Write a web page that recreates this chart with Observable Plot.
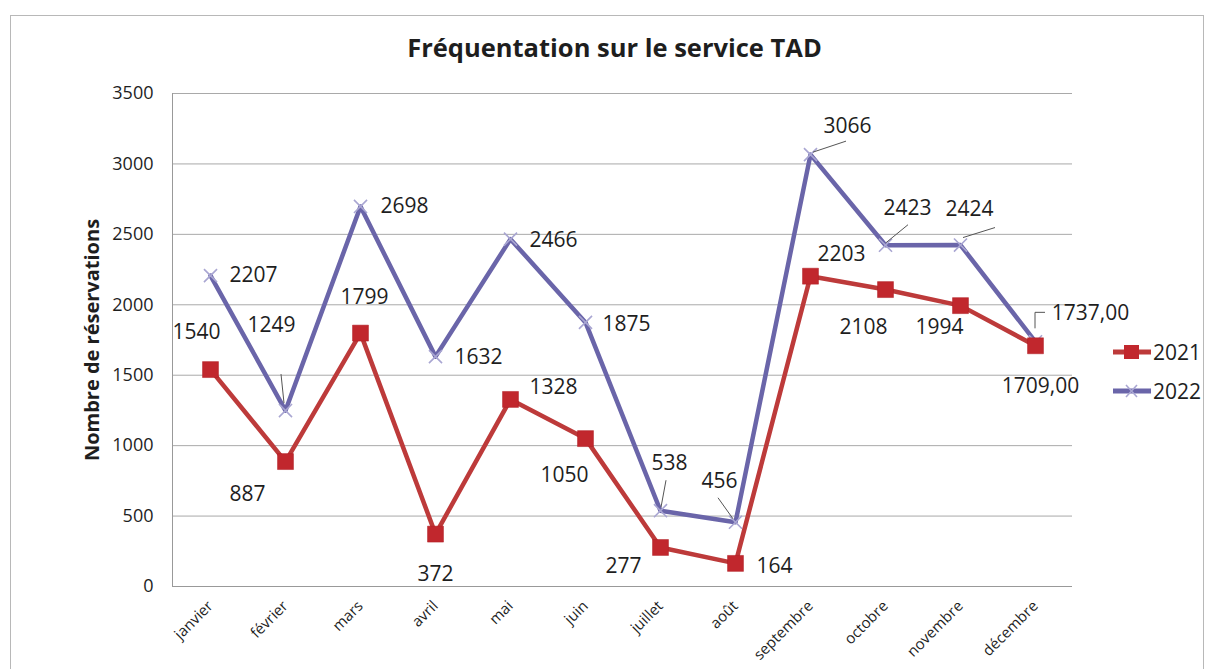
<!DOCTYPE html>
<html><head><meta charset="utf-8">
<script src="https://cdn.jsdelivr.net/npm/d3@7"></script>
<script src="https://cdn.jsdelivr.net/npm/@observablehq/plot@0.6"></script>
<style>
body{margin:0;background:#fff;font-family:"Open Sans",sans-serif;}
#wrap{position:relative;width:1205px;height:669px;overflow:hidden;background:#fff;}
#frame{position:absolute;left:10px;top:15px;width:1192px;height:700px;border:1px solid #b8b8b8;}
#title{position:absolute;left:12px;top:30px;width:1205px;text-align:center;font-weight:700;font-size:25.5px;color:#1e1e1e;}
#chart{position:absolute;left:0;top:75px;}
.leg{position:absolute;left:1112px;height:30px;display:flex;align-items:center;font-size:21px;color:#1e1e1e;}
</style></head>
<body>
<div id="wrap">
  <div id="frame"></div>
  <div id="title">Fréquentation sur le service TAD</div>
  <div id="chart"></div>
  <div id="legend"></div>
</div>
<script>
const months = ["janvier","février","mars","avril","mai","juin","juillet","août","septembre","octobre","novembre","décembre"];
const values2021 = [1540, 887, 1799, 372, 1328, 1050, 277, 164, 2203, 2108, 1994, 1709];
const values2022 = [2207, 1249, 2698, 1632, 2466, 1875, 538, 456, 3066, 2423, 2424, 1737];
const seriesNames = ["2021", "2022"];
const yTicks = [0, 500, 1000, 1500, 2000, 2500, 3000, 3500];
const yTitle = "Nombre de réservations";

// label text: december shown with two decimals (French format)
const fmtLabel = (v, i) => i === 11 ? v.toFixed(2).replace(".", ",") : String(v);

// label placement offsets (layout only)
const off2021 = [[-14,-37],[-38,33],[4,-36],[0,40],[43,-12],[-21,37],[-37,19],[39,3],[31,-22],[-22,38],[-21,22],[5,40]];
const off2022 = [[43,0],[-14,-85],[44,0],[43,1],[43,1],[41,2],[9,-47],[-16,-41],[37,-28],[22,-37],[9,-36],[55,-29]];
// leader lines for 2022 labels (pixel offsets from the point)
const leaders2022 = [
  {i:1, pts:[[-4,-36],[-1,-7]]},
  {i:6, pts:[[6,-30],[1,-3]]},
  {i:7, pts:[[-17,-24],[-2,-3]]},
  {i:8, pts:[[3,-2],[36,-13]]},
  {i:9, pts:[[1,-2],[23,-20]]},
  {i:10, pts:[[3,-7],[35,-17]]},
  {i:11, pts:[[0,-13],[0,-29],[10,-29]]}
];

const rows2021 = months.map((m, i) => ({month: m, value: values2021[i], series: seriesNames[0]}));
const rows2022 = months.map((m, i) => ({month: m, value: values2022[i], series: seriesNames[1]}));

const red = "#c1272d", redLine = "#bd3a3a", purple = "#6a65a9", purpleMark = "#a9a6d2";

function labelMarks(rows, offs) {
  return rows.map((r, i) => Plot.text([r], {
    x: "month", y: "value", text: d => fmtLabel(d.value, i),
    dx: offs[i][0], dy: offs[i][1], fontSize: 21, fill: "#1e1e1e", fontFamily: "Open Sans"
  }));
}

function leaderMark(index, scales) {
  const g = document.createElementNS("http://www.w3.org/2000/svg", "g");
  for (const L of leaders2022) {
    const px = scales.x(months[L.i]), py = scales.y(values2022[L.i]);
    const p = document.createElementNS("http://www.w3.org/2000/svg", "polyline");
    p.setAttribute("points", L.pts.map(([dx, dy]) => `${px + dx},${py + dy}`).join(" "));
    p.setAttribute("fill", "none");
    p.setAttribute("stroke", "#555");
    p.setAttribute("stroke-width", 1);
    g.appendChild(p);
  }
  return g;
}

const chart = Plot.plot({
  width: 1205,
  height: 594,
  marginTop: 18,
  marginBottom: 83,
  marginLeft: 172,
  marginRight: 133,
  style: {fontFamily: "Open Sans", background: "transparent", color: "#1e1e1e"},
  x: {type: "point", domain: months, padding: 0.5},
  y: {domain: [0, 3500]},
  marks: [
    Plot.gridY(yTicks, {stroke: "#a9a9a9", strokeOpacity: 1}),
    Plot.ruleY([0], {stroke: "#999"}),
    Plot.frame({anchor: "left", stroke: "#999"}),
    Plot.axisY(yTicks, {tickSize: 0, tickPadding: 19, fontSize: 18, tickFormat: d => String(d), label: null}),
    Plot.axisX({tickSize: 0, tickRotate: -45, tickPadding: 17, fontSize: 15, label: null}),
    Plot.text([yTitle], {frameAnchor: "left", textAnchor: "middle", rotate: -90, dx: -80, fontWeight: "bold", fontSize: 20, fill: "#1e1e1e"}),
    Plot.line(rows2022, {x: "month", y: "value", stroke: purple, strokeWidth: 4.5}),
    Plot.dot(rows2022, {x: "month", y: "value", symbol: "times", r: 6, stroke: purpleMark, strokeWidth: 1.6}),
    Plot.line(rows2021, {x: "month", y: "value", stroke: redLine, strokeWidth: 4.5}),
    Plot.dot(rows2021, {x: "month", y: "value", symbol: "square", r: 9, fill: red, stroke: "#b01f24", strokeWidth: 0.5}),
    leaderMark,
    ...labelMarks(rows2022, off2022),
    ...labelMarks(rows2021, off2021)
  ]
});
document.getElementById("chart").appendChild(chart);

// legend
const legend = document.getElementById("legend");
const legTops = [337, 376];
seriesNames.forEach((name, k) => {
  const div = document.createElement("div");
  div.className = "leg";
  div.style.top = legTops[k] + "px";
  const sw = k === 0
    ? `<svg width="40" height="30"><line x1="1" y1="15" x2="39" y2="15" stroke="${redLine}" stroke-width="5"/><rect x="12" y="8" width="15" height="14" fill="${red}"/></svg>`
    : `<svg width="40" height="30"><line x1="1" y1="15" x2="39" y2="15" stroke="${purple}" stroke-width="5"/><path d="M14,9L25,21M25,9L14,21" stroke="${purpleMark}" stroke-width="1.6"/></svg>`;
  div.innerHTML = sw + `<span style="margin-left:1px">${name}</span>`;
  legend.appendChild(div);
});
</script>
</body></html>
